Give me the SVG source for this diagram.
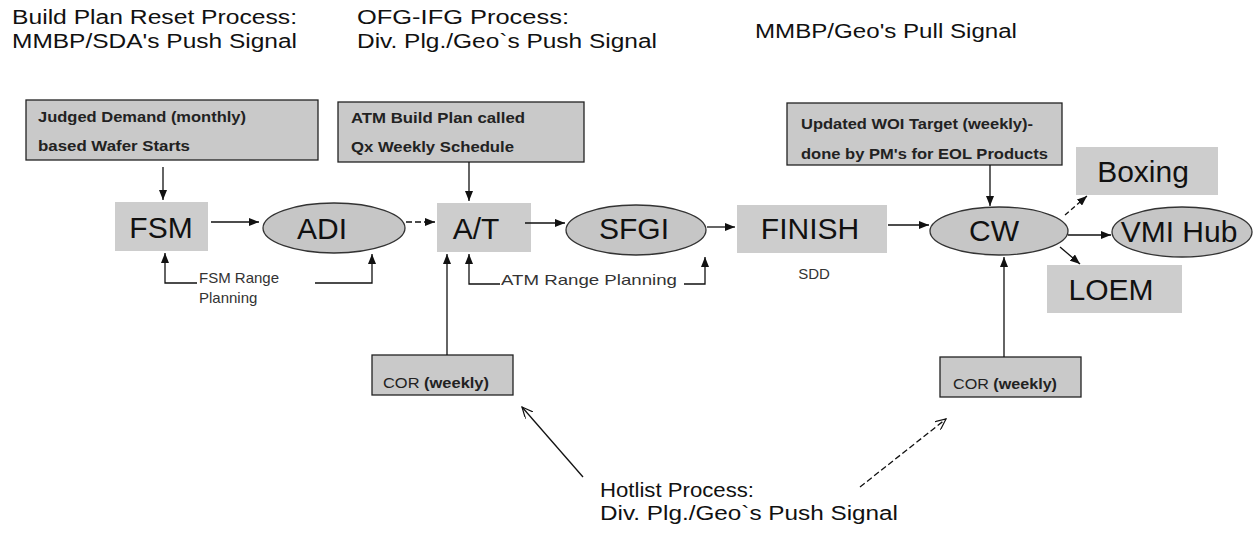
<svg xmlns="http://www.w3.org/2000/svg" width="1257" height="535" viewBox="0 0 1257 535">
<defs>
<marker id="ah" viewBox="0 0 10 8" refX="10" refY="4" markerWidth="10" markerHeight="8" markerUnits="userSpaceOnUse" orient="auto"><path d="M0,0 L10,4 L0,8 z" fill="#111"/></marker>
<marker id="oh" viewBox="0 0 12 10" refX="11" refY="5" markerWidth="12" markerHeight="10" markerUnits="userSpaceOnUse" orient="auto"><path d="M0,0 L11,5 L0,10" fill="none" stroke="#111" stroke-width="1.2"/></marker>
</defs>
<style>
.hdr{font-family:"Liberation Sans",Arial,sans-serif;font-size:20px;fill:#111}
.big{font-family:"Liberation Sans",Arial,sans-serif;font-size:30px;fill:#111;text-anchor:middle}
.sm{font-family:"Liberation Sans",Arial,sans-serif;font-size:15px;font-weight:bold;fill:#222}
.cor{font-family:"Liberation Sans",Arial,sans-serif;font-size:15px;fill:#222}
.rp{font-family:"Liberation Sans",Arial,sans-serif;font-size:15px;fill:#333}
.box{fill:#c9c9c9;stroke:#222;stroke-width:1.3}
.blk{fill:#cdcdcd}
.ell{fill:#c6c6c6;stroke:#333;stroke-width:1.3}
.ln{fill:none;stroke:#111;stroke-width:1.3}
</style>
<rect width="1257" height="535" fill="#fff"/>

<g id="headers">
<text class="hdr" x="12" y="24" textLength="285" lengthAdjust="spacingAndGlyphs">Build Plan Reset Process:</text>
<text class="hdr" x="12" y="48" textLength="285" lengthAdjust="spacingAndGlyphs">MMBP/SDA's Push Signal</text>
<text class="hdr" x="357" y="24" textLength="212" lengthAdjust="spacingAndGlyphs">OFG-IFG Process:</text>
<text class="hdr" x="357" y="48" textLength="300" lengthAdjust="spacingAndGlyphs">Div. Plg./Geo`s Push Signal</text>
<text class="hdr" x="755" y="38" textLength="262" lengthAdjust="spacingAndGlyphs">MMBP/Geo's Pull Signal</text>
</g>

<g id="judged">
<rect class="box" x="26" y="100" width="292" height="60"/>
<text class="sm" x="38" y="122" textLength="208" lengthAdjust="spacingAndGlyphs">Judged Demand (monthly)</text>
<text class="sm" x="38" y="151" textLength="152" lengthAdjust="spacingAndGlyphs">based Wafer Starts</text>
</g>
<g id="atmplan">
<rect class="box" x="338" y="102" width="246" height="60"/>
<text class="sm" x="351" y="123" textLength="174" lengthAdjust="spacingAndGlyphs">ATM Build Plan called</text>
<text class="sm" x="351" y="152" textLength="163" lengthAdjust="spacingAndGlyphs">Qx Weekly Schedule</text>
</g>
<g id="woi">
<rect class="box" x="787" y="103" width="275" height="62"/>
<text class="sm" x="801" y="129" textLength="232" lengthAdjust="spacingAndGlyphs">Updated WOI Target  (weekly)-</text>
<text class="sm" x="801" y="159" textLength="247" lengthAdjust="spacingAndGlyphs">done by PM's for EOL Products</text>
</g>

<g id="fsm"><rect class="blk" x="115" y="202" width="93" height="49"/><text class="big" x="161" y="238">FSM</text></g>
<g id="adi"><ellipse class="ell" cx="334" cy="228" rx="71" ry="25"/><text class="big" x="322" y="239">ADI</text></g>
<g id="at"><rect class="blk" x="437" y="203" width="94" height="49"/><text class="big" x="476" y="239">A/T</text></g>
<g id="sfgi"><ellipse class="ell" cx="636" cy="230" rx="70" ry="25"/><text class="big" x="634" y="239">SFGI</text></g>
<g id="finish"><rect class="blk" x="737" y="205" width="150" height="48"/><text class="big" x="810" y="239">FINISH</text></g>
<g id="sdd"><text class="rp" x="814" y="279" text-anchor="middle" font-size="14">SDD</text></g>
<g id="cw"><ellipse class="ell" cx="999" cy="231" rx="69" ry="24"/><text class="big" x="994" y="241">CW</text></g>
<g id="boxing"><rect class="blk" x="1076" y="147" width="142" height="48"/><text class="big" x="1143" y="182">Boxing</text></g>
<g id="vmi"><ellipse class="ell" cx="1182" cy="232" rx="70" ry="25"/><text class="big" x="1179" y="242">VMI Hub</text></g>
<g id="loem"><rect class="blk" x="1047" y="265" width="135" height="48"/><text class="big" x="1111" y="300">LOEM</text></g>

<g id="cor1"><rect class="box" x="372" y="355" width="141" height="40"/><text class="cor" x="383" y="388" textLength="106" lengthAdjust="spacingAndGlyphs">COR <tspan font-weight="bold">(weekly)</tspan></text></g>
<g id="cor2"><rect class="box" x="940" y="357" width="141" height="40"/><text class="cor" x="953" y="389" textLength="104" lengthAdjust="spacingAndGlyphs">COR <tspan font-weight="bold">(weekly)</tspan></text></g>

<g id="fsmrange"><text class="rp" x="199" y="283">FSM Range</text><text class="rp" x="199" y="303">Planning</text></g>
<g id="atmrange"><text class="rp" x="501" y="285" textLength="176" lengthAdjust="spacingAndGlyphs">ATM Range Planning</text></g>

<g id="hotlist">
<text class="hdr" x="600" y="497" textLength="154" lengthAdjust="spacingAndGlyphs">Hotlist Process:</text>
<text class="hdr" x="600" y="520" textLength="298" lengthAdjust="spacingAndGlyphs">Div. Plg./Geo`s Push Signal</text>
</g>

<g id="connectors" class="ln">
<line x1="163" y1="167" x2="163" y2="200" marker-end="url(#ah)"/>
<line x1="211" y1="222" x2="259" y2="222" marker-end="url(#ah)"/>
<line x1="406" y1="222" x2="435" y2="222" stroke-dasharray="6,3" marker-end="url(#ah)"/>
<line x1="469" y1="162" x2="469" y2="201" marker-end="url(#ah)"/>
<line x1="525" y1="223" x2="565" y2="223" marker-end="url(#ah)"/>
<line x1="707" y1="227" x2="735" y2="227" marker-end="url(#ah)"/>
<line x1="888" y1="225" x2="929" y2="225" marker-end="url(#ah)"/>
<line x1="990" y1="165" x2="990" y2="206" marker-end="url(#ah)"/>
<line x1="1065" y1="215" x2="1087" y2="196" stroke-dasharray="5,3" marker-end="url(#ah)"/>
<line x1="1068" y1="235" x2="1111" y2="235" marker-end="url(#ah)"/>
<line x1="1060" y1="247" x2="1080" y2="264" marker-end="url(#ah)"/>
<polyline points="197,283 165,283 165,253" marker-end="url(#ah)"/>
<polyline points="315,283 372,283 372,254" marker-end="url(#ah)"/>
<polyline points="500,284 469,284 469,254" marker-end="url(#ah)"/>
<polyline points="684,284 705,284 705,257" marker-end="url(#ah)"/>
<line x1="447" y1="355" x2="447" y2="254" marker-end="url(#ah)"/>
<line x1="1004" y1="357" x2="1004" y2="257" marker-end="url(#ah)"/>
<line x1="583" y1="477" x2="522" y2="407" marker-end="url(#oh)"/>
<line x1="860" y1="487" x2="946" y2="419" stroke-dasharray="6,3" marker-end="url(#oh)"/>
</g>
</svg>
